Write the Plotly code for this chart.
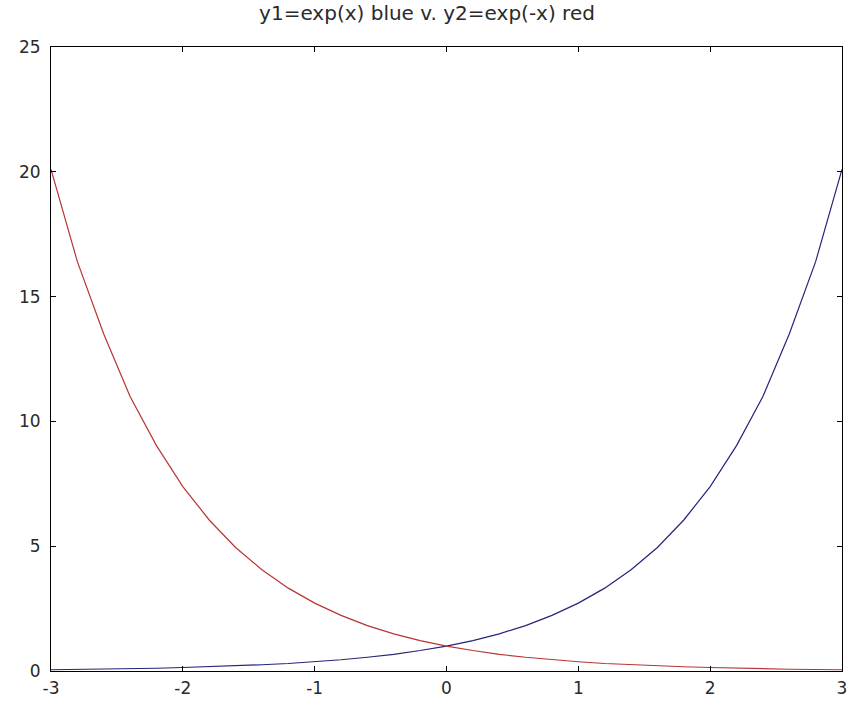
import plotly.graph_objects as go

x_vals = [-3.0, -2.8, -2.6, -2.4, -2.2, -2.0, -1.8, -1.6, -1.4, -1.2, -1.0,
          -0.8, -0.6, -0.4, -0.2, 0.0, 0.2, 0.4, 0.6, 0.8, 1.0,
          1.2, 1.4, 1.6, 1.8, 2.0, 2.2, 2.4, 2.6, 2.8, 3.0]
y1_blue = [0.05, 0.06, 0.07, 0.09, 0.11, 0.14, 0.17, 0.2, 0.25, 0.3, 0.37,
           0.45, 0.55, 0.67, 0.82, 1.0, 1.22, 1.49, 1.82, 2.23, 2.72,
           3.32, 4.06, 4.95, 6.05, 7.39, 9.03, 11.0, 13.5, 16.4, 20.1]
y2_red = [20.1, 16.4, 13.5, 11.0, 9.03, 7.39, 6.05, 4.95, 4.06, 3.32, 2.72,
          2.23, 1.82, 1.49, 1.22, 1.0, 0.82, 0.67, 0.55, 0.45, 0.37,
          0.3, 0.25, 0.2, 0.17, 0.14, 0.11, 0.09, 0.07, 0.06, 0.05]
x_ticks = [-3, -2, -1, 0, 1, 2, 3]
y_ticks = [0, 5, 10, 15, 20, 25]

fig = go.Figure()
fig.add_trace(go.Scatter(x=x_vals, y=y1_blue, mode="lines",
                         line=dict(color="#24247c", width=1.2), showlegend=False))
fig.add_trace(go.Scatter(x=x_vals, y=y2_red, mode="lines",
                         line=dict(color="#b83434", width=1.2), showlegend=False))

tick_font = dict(family="DejaVu Sans, Verdana, sans-serif", size=17, color="#2a2a2a")
axis_common = dict(showgrid=False, zeroline=False, showline=True, linecolor="black",
                   linewidth=1, mirror="ticks", ticks="inside", ticklen=5,
                   tickcolor="black", tickwidth=1, tickfont=tick_font)

fig.update_layout(
    width=854, height=709,
    margin=dict(l=51, r=7, t=47, b=38),
    paper_bgcolor="white", plot_bgcolor="white",
    title=dict(text="y1=exp(x) blue v. y2=exp(-x) red", x=0.5, xanchor="center",
               y=1 - 13 / 709, yanchor="middle",
               font=dict(family="DejaVu Sans, Verdana, sans-serif", size=20, color="#2a2a2a")),
    xaxis=dict(range=[-3, 3], tickvals=x_ticks, ticktext=[str(t) for t in x_ticks],
               ticklabelstandoff=2, **axis_common),
    yaxis=dict(range=[0, 25], tickvals=y_ticks, ticktext=[str(t) for t in y_ticks],
               ticklabelstandoff=6, **axis_common),
)

fig.write_html("out.html")
